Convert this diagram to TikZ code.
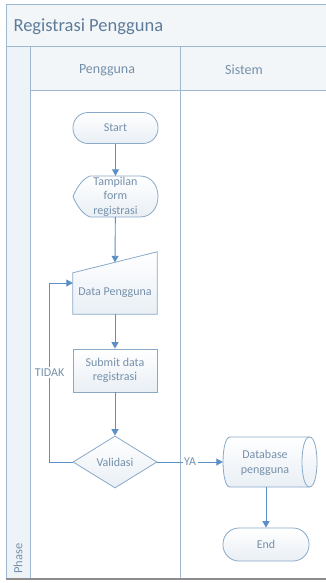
\documentclass[tikz,border=0pt]{standalone}
\usepackage{fontspec}
\setmainfont{Carlito}
\usetikzlibrary{shapes.geometric,arrows.meta,calc}
\definecolor{lineblue}{HTML}{5B8FC7}
\definecolor{edgeblue}{HTML}{89A9C8}
\definecolor{txtblue}{HTML}{7590AA}
\definecolor{frameblue}{HTML}{9DB8D0}
\definecolor{titleblue}{HTML}{5E7C9A}
\definecolor{nodefill}{HTML}{E9EFF5}
\definecolor{bandfill}{HTML}{F3F6F9}
\definecolor{phasefill}{HTML}{EEF3F8}
\definecolor{bottomgray}{HTML}{8C8C8C}
\begin{document}
\begin{tikzpicture}[x=1pt,y=-1pt,
  nodefont/.style={font=\fontsize{12}{14.5}\selectfont},
  shapefill/.style={draw=edgeblue, line width=0.8pt, top color=white, bottom color=nodefill},
  base/.style={shapefill, text=txtblue, nodefont, align=center, inner sep=0pt},
  term/.style={base, rectangle, rounded corners=15pt, minimum width=85pt, minimum height=31pt},
  procbox/.style={base, rectangle, minimum width=84pt, minimum height=43pt},
  decision/.style={base, diamond, minimum width=84pt, minimum height=52pt},
  holder/.style={rectangle, inner sep=0pt, text=txtblue, nodefont, align=center},
  flow/.style={draw=lineblue, line width=0.9pt, -{Triangle[length=6.5pt,width=7pt]}},
  lbl/.style={fill=white, text=txtblue, nodefont, inner sep=1.5pt},
  frame/.style={draw=frameblue, line width=1pt},
  hdr/.style={text=txtblue, font=\fontsize{14}{16}\selectfont}
]
\useasboundingbox (0,0) rectangle (326,583);
\fill[white] (0,0) rectangle (326,583);
% swimlane frame
\fill[bandfill] (6,5) rectangle (330,47);
\fill[bandfill] (30,47) rectangle (330,91);
\fill[phasefill] (6,47) rectangle (30,579);
\draw[frame] (330,5) -- (6,5) -- (6,579);
\draw[frame] (6,47) -- (330,47);
\draw[frame] (30,91) -- (330,91);
\draw[frame] (30,47) -- (30,579);
\draw[frame] (180,47) -- (180,579);
\draw[draw=bottomgray, line width=1.5pt] (6,579) -- (330,579);
\node[anchor=west, text=titleblue, font=\fontsize{18.5}{22}\selectfont] (title) at (10,27) {Registrasi Pengguna};
\node[hdr] (lane1) at (107,70) {Pengguna};
\node[hdr] (lane2) at (244,70) {Sistem};
\node[rotate=90, anchor=west, text=txtblue, font=\fontsize{12.5}{14}\selectfont] (phase) at (18,577) {Phase};
% nodes
\node[term] (start) at (115.5,128) {Start};
\path[shapefill] (90,176) -- (140,176) .. controls (164,176) and (164,217) .. (140,217) -- (90,217)
  .. controls (82,214) and (76,204) .. (73,196.5) .. controls (76,189) and (82,179) .. (90,176) -- cycle;
\node[holder, minimum width=85pt, minimum height=41pt] (tf) at (115.5,196.5) {Tampilan\\form\\registrasi};
\node[holder, minimum width=84pt, minimum height=62pt] (dp) at (115,283) {};
\path[shapefill] (dp.south west) -- ($(dp.north west)+(0,21)$) -- (dp.north east) -- (dp.south east) -- cycle;
\coordinate (dpin) at ($(dp.north)+(0,10.5)$);
\node[holder] (dptext) at (115,293) {Data Pengguna};
\node[procbox] (sub) at (115,370.5) {Submit data\\registrasi};
\node[decision] (val) at (115,462) {Validasi};
\node[holder, minimum width=86pt, minimum height=50pt] (db) at (266,462) {};
\path[shapefill] (230,437) -- (309.5,437) .. controls (319.5,437) and (319.5,487) .. (309.5,487) -- (230,487)
  .. controls (220.7,487) and (220.7,437) .. (230,437) -- cycle;
\draw[draw=edgeblue, line width=0.8pt] (309.5,437) .. controls (299.5,437) and (299.5,487) .. (309.5,487);
\node[holder] (dbtext) at (265,463) {Database\\pengguna};
\node[term, minimum width=86pt, minimum height=33pt, rounded corners=16pt] (endn) at (266,544.5) {End};
% connectors
\draw[flow] (start) -- (tf);
\draw[flow] (tf) -- (dpin);
\draw[flow] (dp) -- (sub);
\draw[flow] (sub) -- (val);
\draw[flow] (val.west) -- ++(-23,0) |- node[lbl, pos=0.25] {TIDAK} (dp.west);
\draw[flow] (val) -- node[lbl] {YA} (db);
\draw[flow] (db) -- (endn);
\end{tikzpicture}
\end{document}
